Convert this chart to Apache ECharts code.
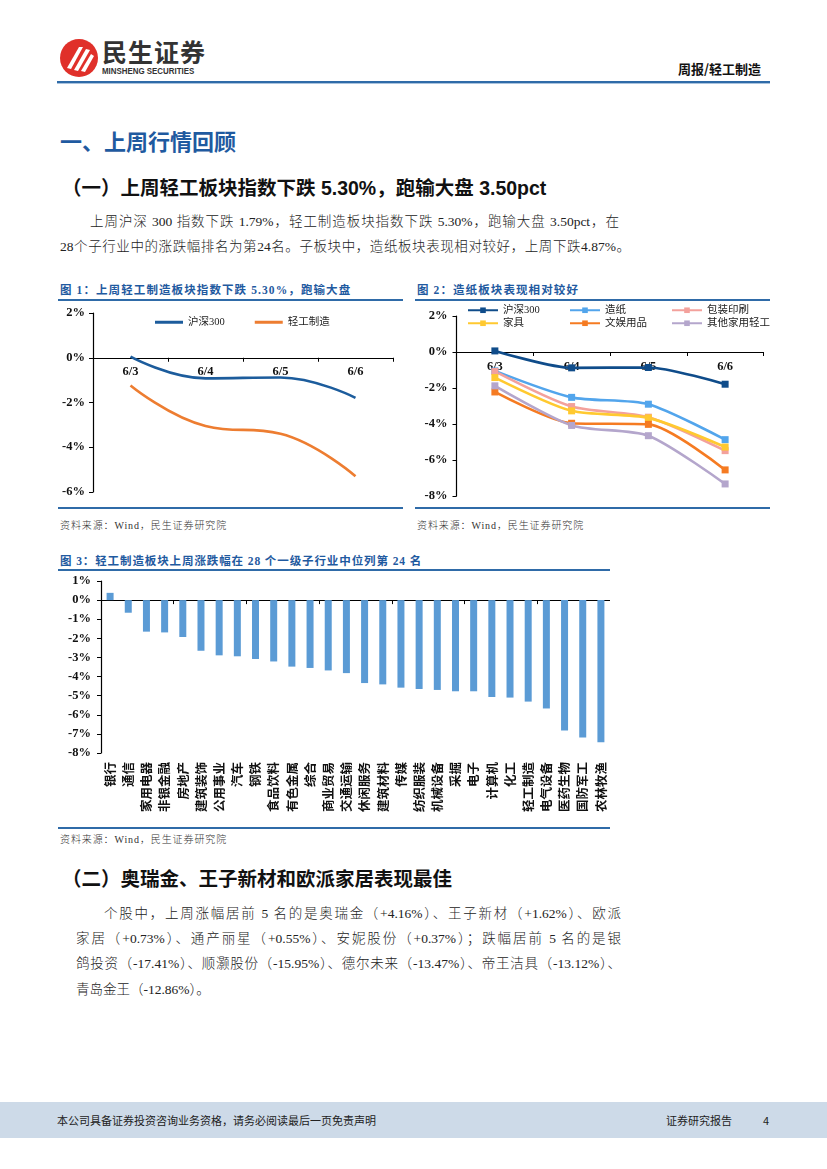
<!DOCTYPE html>
<html><head><meta charset="utf-8">
<script src="https://cdn.jsdelivr.net/npm/echarts@6.0.0/dist/echarts.min.js"></script>
<style>
html,body{margin:0;padding:0;background:#fff;}
body{width:827px;height:1169px;position:relative;overflow:hidden;font-family:"Liberation Serif","Noto Sans CJK SC",serif;color:#222;}
.abs{position:absolute;white-space:nowrap;}
.h1{font-family:"Noto Sans CJK SC";font-weight:bold;font-size:22px;color:#1F5AA0;}
.h2{font-family:"Liberation Sans","Noto Sans CJK SC";font-weight:bold;font-size:19.5px;color:#111;}
.p{font-size:13.5px;font-weight:300;color:#222;text-align:justify;text-align-last:justify;line-height:16px;}
.ft{font-family:"Liberation Serif","Noto Sans CJK SC";font-weight:bold;font-size:11.5px;letter-spacing:1.1px;color:#1F5AA0;}
.src{font-size:10px;font-weight:300;letter-spacing:0.9px;color:#333;}
.line{position:absolute;background:#2F6BA8;}
</style></head>
<body>
<!-- header -->
<svg class="abs" style="left:59px;top:38px" width="40" height="40" viewBox="0 0 40 40">
<circle cx="20" cy="20" r="19" fill="#E0302A"/>
<path d="M8 30 L20 9 L24 9 L12 31 Z" fill="#fff"/>
<path d="M15 32 L27 11 L31 12 L19 33 Z" fill="#fff"/>
<path d="M22 33 L32 16 L35 18 L26 34 Z" fill="#fff"/>
</svg>
<div class="abs" style="left:102px;top:37px;font-family:'Noto Sans CJK SC';font-weight:bold;font-size:25px;color:#333;letter-spacing:1px;line-height:28px">民生证券</div>
<div class="abs" style="left:102px;top:66px;font-family:'Liberation Sans';font-weight:bold;font-size:8.6px;color:#333;line-height:10px;transform:scaleX(0.92);transform-origin:left">MINSHENG SECURITIES</div>
<div class="abs" style="left:678px;top:61px;font-family:'Noto Sans CJK SC';font-weight:bold;font-size:13px;color:#111;line-height:16px">周报/轻工制造</div>
<div class="line" style="left:57px;top:81px;width:713px;height:2px;background:#2F6BA8"></div>
<div class="line" style="left:57px;top:83px;width:713px;height:1px;background:#A9C3DE"></div>

<div class="abs h1" style="left:60px;top:126px;line-height:28px">一、上周行情回顾</div>
<div class="abs h2" style="left:62px;top:175px;line-height:26px">（一）上周轻工板块指数下跌 5.30%，跑输大盘 3.50pct</div>
<div class="abs p" style="left:90px;top:214px;width:529px">上周沪深 300 指数下跌 1.79%，轻工制造板块指数下跌 5.30%，跑输大盘 3.50pct，在</div>
<div class="abs p" style="left:60px;top:239px;width:570px">28个子行业中的涨跌幅排名为第24名。子板块中，造纸板块表现相对较好，上周下跌4.87%。</div>

<!-- fig 1 -->
<div class="abs ft" style="left:60px;top:283px;line-height:14px">图 1：上周轻工制造板块指数下跌 5.30%，跑输大盘</div>
<div class="line" style="left:58px;top:299px;width:345px;height:1.5px"></div>
<div id="c1" class="abs" style="left:58px;top:300px;width:345px;height:207px"></div>
<div class="line" style="left:58px;top:507px;width:345px;height:1.5px"></div>
<div class="abs src" style="left:60px;top:517px">资料来源：Wind，民生证券研究院</div>

<!-- fig 2 -->
<div class="abs ft" style="left:417px;top:283px;line-height:14px">图 2：造纸板块表现相对较好</div>
<div class="line" style="left:415px;top:299px;width:355px;height:1.5px"></div>
<div id="c2" class="abs" style="left:415px;top:300px;width:355px;height:207px"></div>
<div class="line" style="left:415px;top:507px;width:355px;height:1.5px"></div>
<div class="abs src" style="left:417px;top:517px">资料来源：Wind，民生证券研究院</div>

<!-- fig 3 -->
<div class="abs ft" style="left:60px;top:554px;line-height:14px;letter-spacing:0.9px">图 3：轻工制造板块上周涨跌幅在 28 个一级子行业中位列第 24 名</div>
<div class="line" style="left:58px;top:569px;width:552px;height:1.5px"></div>
<div id="c3" class="abs" style="left:58px;top:571px;width:552px;height:256px"></div>
<div class="line" style="left:58px;top:827px;width:552px;height:1.5px"></div>
<div class="abs src" style="left:60px;top:831px">资料来源：Wind，民生证券研究院</div>

<div class="abs h2" style="left:62px;top:866px;line-height:26px">（二）奥瑞金、王子新材和欧派家居表现最佳</div>
<div class="abs p" style="left:104px;top:906px;width:517px">个股中，上周涨幅居前 5 名的是奥瑞金（+4.16%）、王子新材（+1.62%）、欧派</div>
<div class="abs p" style="left:76px;top:931px;width:545px">家居（+0.73%）、通产丽星（+0.55%）、安妮股份（+0.37%）；跌幅居前 5 名的是银</div>
<div class="abs p" style="left:76px;top:956px;width:545px">鸽投资（-17.41%）、顺灏股份（-15.95%）、德尔未来（-13.47%）、帝王洁具（-13.12%）、</div>
<div class="abs p" style="left:76px;top:982px;text-align-last:left">青岛金王（-12.86%）。</div>

<!-- footer -->
<div class="abs" style="left:0;top:1102px;width:827px;height:36px;background:#CDDAE8"></div>
<div class="abs" style="left:57px;top:1113px;font-family:'Noto Sans CJK SC';font-size:11px;color:#222;line-height:14px">本公司具备证券投资咨询业务资格，请务必阅读最后一页免责声明</div>
<div class="abs" style="left:666px;top:1113px;font-family:'Noto Sans CJK SC';font-size:11px;color:#222;line-height:14px">证券研究报告</div>
<div class="abs" style="left:763px;top:1113px;font-family:'Noto Sans CJK SC';font-size:11px;color:#222;line-height:14px">4</div>

<script>
// ---- data ----
const dates = ['6/3','6/4','6/5','6/6'];
const fig1Names = ['沪深300','轻工制造'];
const fig1Hs300 = [0.05, -0.92, -0.88, -1.79];
const fig1Qg = [-1.24, -3.05, -3.40, -5.30];

const fig2Names = ['沪深300','造纸','包装印刷','家具','文娱用品','其他家用轻工'];
const fig2Hs300 = [0.06, -0.88, -0.86, -1.79];
const fig2Paper = [-1.05, -2.52, -2.90, -4.87];
const fig2Pack = [-1.08, -3.03, -3.62, -5.48];
const fig2Furn = [-1.42, -3.27, -3.66, -5.28];
const fig2Stat = [-2.22, -3.96, -4.02, -6.55];
const fig2Other = [-1.88, -4.08, -4.65, -7.33];

const industries = ['银行','通信','家用电器','非银金融','房地产','建筑装饰','公用事业','汽车','钢铁','食品饮料','有色金属','综合','商业贸易','交通运输','休闲服务','建筑材料','传媒','纺织服装','机械设备','采掘','电子','计算机','化工','轻工制造','电气设备','医药生物','国防军工','农林牧渔'];
const industryChg = [0.38, -0.66, -1.65, -1.69, -1.93, -2.65, -2.89, -2.94, -3.08, -3.21, -3.48, -3.55, -3.68, -3.82, -4.34, -4.41, -4.58, -4.65, -4.70, -4.77, -4.77, -5.07, -5.10, -5.31, -5.67, -6.82, -7.19, -7.44];

const fig1Ticks = {min:-6, max:2, interval:2};
const fig2Ticks = {min:-8, max:2, interval:2};
const fig3Ticks = {min:-8, max:1, interval:1};

// ---- styles ----
const serifBold = {fontFamily:'Liberation Serif', fontWeight:'bold', color:'#111', fontSize:12.5};
const legendText = {fontFamily:'Liberation Serif, Noto Sans CJK SC', fontSize:10.5, color:'#222'};
function yAx(t, margin){
  return {type:'value', min:t.min, max:t.max, interval:t.interval,
    axisLine:{show:true, lineStyle:{color:'#000', width:1.2}},
    axisTick:{show:true, length:4, lineStyle:{color:'#000'}},
    splitLine:{show:false},
    axisLabel:Object.assign({formatter:'{value}%', margin:margin}, serifBold)};
}
// category axis drawn at the zero line: offset from bottom = zero position in grid
function xAx(margin, t, gridH){
  const off = -(0 - t.min) / (t.max - t.min) * gridH;
  return {type:'category', data:dates, boundaryGap:true, position:'bottom', offset:off,
    axisLine:{onZero:false, lineStyle:{color:'#000', width:1.2}},
    axisTick:{show:true, length:4, lineStyle:{color:'#000'}},
    axisLabel:Object.assign({margin:8}, serifBold)};
}

// ---- chart 1 ----
const c1 = echarts.init(document.getElementById('c1'));
const c1Colors = ['#1C5C9C','#ED7D31'];
c1.setOption({
  animation:false,
  grid:{left:35, right:10, top:13, bottom:15},
  legend:{left:92, top:12, itemWidth:28, itemHeight:3, itemGap:30, icon:'rect',
    textStyle:legendText, data:fig1Names},
  xAxis:xAx(8, fig1Ticks, 179),
  yAxis:yAx(fig1Ticks, 8),
  series:[
    {name:fig1Names[0], type:'line', data:fig1Hs300, smooth:0.45, showSymbol:false, symbol:'none', color:c1Colors[0], lineStyle:{width:2.6}},
    {name:fig1Names[1], type:'line', data:fig1Qg, smooth:0.45, showSymbol:false, symbol:'none', color:c1Colors[1], lineStyle:{width:2.6}}
  ]
});

// ---- chart 2 ----
const c2 = echarts.init(document.getElementById('c2'));
const c2Colors = ['#0F4C8A','#52A5EC','#F3A19C','#FFC930','#F57B22','#B4A6CC'];
const c2Data = [fig2Hs300, fig2Paper, fig2Pack, fig2Furn, fig2Stat, fig2Other];
const legPos = [[47,0],[149,0],[251,0],[47,13],[149,13],[251,13]];
c2.setOption({
  animation:false,
  grid:{left:41.5, right:6.5, top:16, bottom:11},
  legend:fig2Names.map((n,i)=>({left:legPos[i][0], top:legPos[i][1], itemWidth:30, itemHeight:7, itemGap:4,
    textStyle:legendText, data:[n]})),
  xAxis:xAx(8, fig2Ticks, 180),
  yAxis:yAx(fig2Ticks, 9),
  series:fig2Names.map((n,i)=>({name:n, type:'line', data:c2Data[i], smooth:0.25,
    symbol:'rect', symbolSize:7, showSymbol:true, color:c2Colors[i], lineStyle:{width:2.6}}))
});

// ---- chart 3 ----
const c3 = echarts.init(document.getElementById('c3'));
c3.setOption({
  animation:false,
  grid:{left:43, right:0, top:10, bottom:74},
  xAxis:[
    {type:'category', data:industries, boundaryGap:true, position:'bottom', offset:-(0 - fig3Ticks.min)/(fig3Ticks.max - fig3Ticks.min)*172,
     axisLine:{onZero:false, lineStyle:{color:'#000', width:1.2}},
     axisTick:{show:true, length:4, lineStyle:{color:'#000'}},
     axisLabel:{show:false}},
    {type:'category', data:industries, boundaryGap:true, position:'bottom',
     axisLine:{show:false, onZero:false}, axisTick:{show:false},
     axisLabel:{margin:9, interval:0, rotate:90, fontFamily:'Noto Sans CJK SC', fontWeight:'bold', fontSize:12.5, color:'#111'}}
  ],
  yAxis:yAx(fig3Ticks, 10),
  series:[{type:'bar', data:industryChg, xAxisIndex:0, barWidth:7, itemStyle:{color:'#5B9BD5'}}]
});
</script>
</body></html>
